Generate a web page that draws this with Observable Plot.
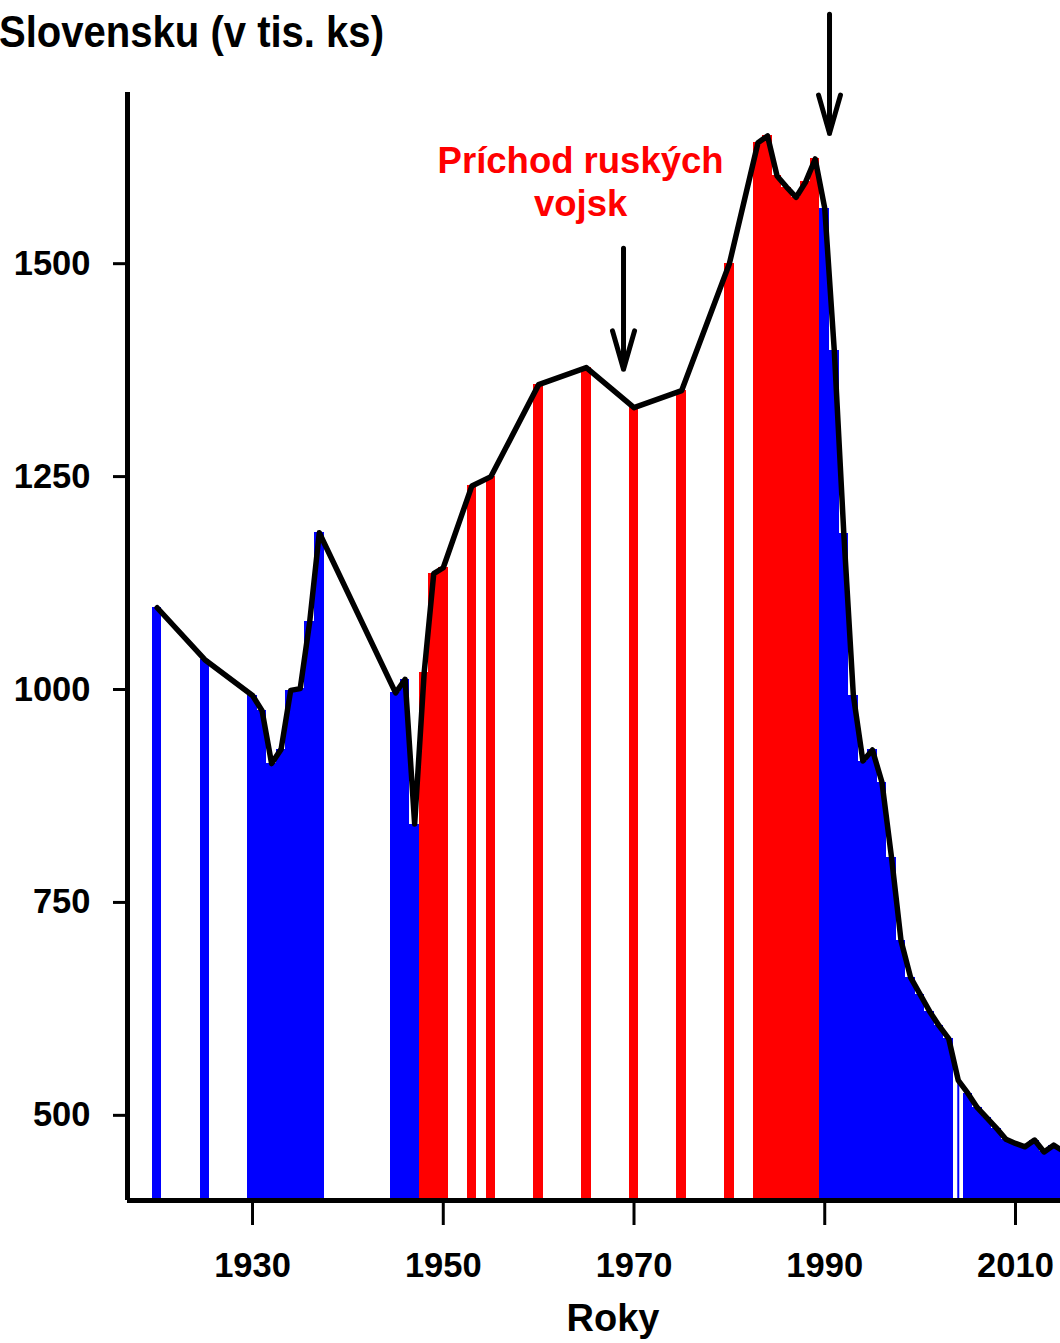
<!DOCTYPE html>
<html><head><meta charset="utf-8">
<script src="https://cdn.jsdelivr.net/npm/d3@7"></script>
<script src="https://cdn.jsdelivr.net/npm/@observablehq/plot@0.6"></script>
<style>
html,body{margin:0;padding:0;background:#fff;}
#wrap{position:relative;width:1060px;height:1343px;overflow:hidden;}
#chart{position:absolute;left:0;top:0;}
#title{position:absolute;left:-1px;top:10px;font:bold 44px "Liberation Sans",Arial,sans-serif;line-height:44px;white-space:nowrap;color:#000;transform:scaleX(0.91);transform-origin:0 0;}
</style></head><body>
<div id="wrap"><div id="chart"></div><div id="title">Slovensku (v tis. ks)</div></div>
<script>
// Years and values (thousand head)
const years = [1920,1925,1930,1931,1932,1933,1934,1935,1936,1937,
  1945,1946,1947,1948,1949,1950,1953,1955,1960,1965,1970,1975,1980,
  1983,1984,1985,1986,1987,1988,1989,1990,1991,1992,1993,1994,1995,1996,1997,1998,1999,
  2000,2001,2002,2003,2004,2005,2006,2007,2008,2009,2010,2011,2012,2013,2014,2015];
const values = [1096,1035,993,975,913,930,999,1001,1080,1184,
  996,1012,842,1020,1136,1143,1239,1250,1358,1378,1331,1351,1500,
  1642,1650,1603,1590,1578,1596,1623,1565,1398,1183,993,916,929,891,803,705,662,
  642,622,605,590,541,526,509,497,485,472,467,463,471,457,465,458];
const redPeriod = [1948, 1989];
const noBarYears = [2004];
const xTicks = [1930,1950,1970,1990,2010];
const yTicks = [500,750,1000,1250,1500];
const arrowX = [1968.9, 1990.5];
const arrowFrom = [1518, 1793];
const arrowTo = [1376, 1653];
const annotationText = ["Príchod ruských\nvojsk"];
const annotationX = [1964.4];
const annotationY = [1642];
const xLabel = "Roky";

const RED = "#ff0000", BLUE = "#0000ff";
const xDomain = [1916.89, 2014.72];
const yDomain = [400, 1701];

const data = years.map((y, i) => ({year: y, value: values[i]}));
const bars = data.filter(d => !noBarYears.includes(d.year));
const gaps = data.filter(d => noBarYears.includes(d.year));
const colorOf = d => (d.year >= redPeriod[0] && d.year <= redPeriod[1]) ? RED : BLUE;
const arrows = arrowX.map((x, i) => ({x, y1: arrowFrom[i], y2: arrowTo[i]}));
const notes = annotationText.map((t, i) => ({t, x: annotationX[i], y: annotationY[i]}));

const chart = Plot.plot({
  width: 1060,
  height: 1343,
  marginLeft: 127,
  marginRight: 0,
  marginTop: 92,
  marginBottom: 143,
  style: {fontFamily: '"Liberation Sans", Arial, sans-serif', fontWeight: "bold", color: "#000", background: "#fff", overflow: "visible"},
  x: {domain: xDomain},
  y: {domain: yDomain},
  marks: [
    Plot.rect(bars, {x1: d => d.year - 0.5, x2: d => d.year + 0.5, y1: () => yDomain[0], y2: "value", fill: colorOf, shapeRendering: "crispEdges"}),
    Plot.ruleX(gaps, {x: "year", y1: () => yDomain[0], y2: "value", stroke: BLUE, strokeWidth: 2}),
    Plot.line(data, {x: "year", y: "value", stroke: "#000", strokeWidth: 5.5, strokeLinejoin: "round", strokeLinecap: "round"}),
    Plot.ruleY([yDomain[0]], {stroke: "#000", strokeWidth: 5}),
    Plot.ruleX([xDomain[0]], {stroke: "#000", strokeWidth: 5}),
    Plot.axisY({ticks: yTicks, tickFormat: "d", tickSize: 14, tickPadding: 23, fontSize: 34.5, strokeWidth: 3, label: null}),
    Plot.axisX({ticks: xTicks, tickFormat: "d", tickSize: 25, tickPadding: 27, fontSize: 34.5, strokeWidth: 3, label: null}),
    Plot.arrow(arrows, {x: "x", y1: "y1", y2: "y2", x1: "x", x2: "x", stroke: "#000", strokeWidth: 5, headLength: 12, headAngle: 32}),
    Plot.text(notes, {x: "x", y: "y", text: "t", fill: RED, fontSize: 36.5, fontWeight: "bold", lineAnchor: "top", lineHeight: 1.18, textAnchor: "middle"}),
    Plot.text([xLabel], {frameAnchor: "bottom", dx: 19, dy: 104, lineAnchor: "top", fontSize: 38, fontWeight: "bold", fill: "#000"})
  ]
});
document.getElementById("chart").appendChild(chart);
</script>
</body></html>
